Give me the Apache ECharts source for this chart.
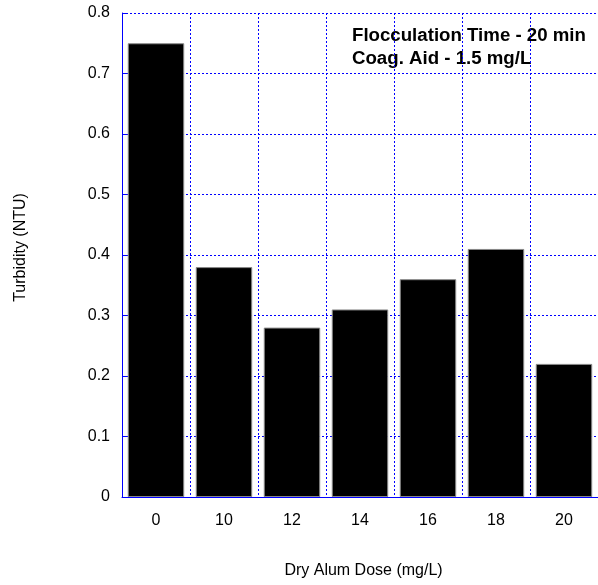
<!DOCTYPE html>
<html><head><meta charset="utf-8">
<script src="https://cdn.jsdelivr.net/npm/echarts@6/dist/echarts.min.js"></script>
<style>html,body{margin:0;padding:0;background:#fff}#c{width:598px;height:585px}</style>
</head><body><div id="c"></div>
<script>
const categories = ['0','10','12','14','16','18','20'];
const turbidity = [0.75, 0.38, 0.28, 0.31, 0.36, 0.41, 0.22];
const yTicks = {min: 0, max: 0.8, interval: 0.1};
const xTitle = 'Dry Alum Dose (mg/L)';
const yTitle = 'Turbidity (NTU)';
const note1 = 'Flocculation Time - 20 min';
const note2 = 'Coag. Aid - 1.5 mg/L';

const chart = echarts.init(document.getElementById('c'), null, {renderer:'canvas'});
const font = 'Liberation Sans, Arial, sans-serif';
chart.setOption({
  animation: false,
  grid: {left: 122, top: 13, width: 485, height: 484, containLabel: false},
  xAxis: {
    type: 'category', data: categories, boundaryGap: true,
    axisLine: {lineStyle: {color: '#0000ff', width: 1}},
    axisTick: {show: false},
    axisLabel: {color: '#000', fontFamily: font, fontSize: 16, margin: 16},
    splitLine: {show: true, interval: 0, lineStyle: {color: '#0000ff', type: [2,2], width: 1}}
  },
  yAxis: {
    type: 'value', min: yTicks.min, max: yTicks.max, interval: yTicks.interval,
    axisLine: {show: true, lineStyle: {color: '#0000ff', width: 1}},
    axisTick: {show: true, inside: true, length: 5, lineStyle: {color: '#0000ff'}},
    axisLabel: {color: '#000', fontFamily: font, fontSize: 16, margin: 12,
      formatter: v => (Math.round(v*10)/10).toString()},
    splitLine: {show: true, lineStyle: {color: '#0000ff', type: [2,2], width: 1}}
  },
  graphic: [
    {type: 'text', left: 352, top: 24, style: {text: note1 + '\n' + note2, fill: '#000',
      font: 'bold 18.67px ' + font, lineHeight: 23}},
    {type: 'text', x: 363.5, y: 571, style: {text: xTitle, fill: '#000', font: '16px ' + font,
      textAlign: 'center', textVerticalAlign: 'middle'}},
    {type: 'text', x: 21, y: 247.5, rotation: Math.PI/2, style: {text: yTitle, fill: '#000', font: '16px ' + font,
      textAlign: 'center', textVerticalAlign: 'middle'}}
  ],
  series: [{
    type: 'bar', data: turbidity, barCategoryGap: '17%',
    itemStyle: {color: '#000', borderColor: '#888', borderWidth: 1}
  }]
});
</script></body></html>
